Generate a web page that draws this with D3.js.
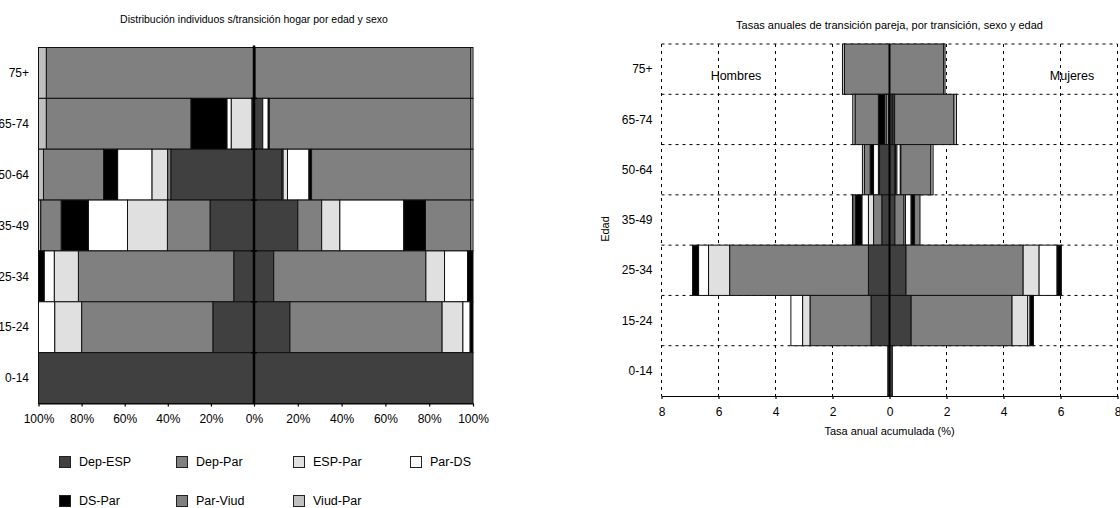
<!DOCTYPE html>
<html><head><meta charset="utf-8">
<script src="https://cdn.jsdelivr.net/npm/d3@7"></script>
<style>
body{margin:0;background:#fff;}
svg{display:block;font-family:"Liberation Sans",Arial,Helvetica,sans-serif;}
</style></head><body>
<svg id="chart" width="1120" height="508"></svg>
<script>
// Age groups, top to bottom
const ages = ["75+", "65-74", "50-64", "35-49", "25-34", "15-24", "0-14"];
// Transition types, stacked from the centre outwards
const series = ["Dep-ESP", "Dep-Par", "ESP-Par", "Par-DS", "DS-Par", "Par-Viud", "Viud-Par"];

// Distribution of individuals by transition (% of each age group), one row per age group
const distHombres = [
  [0,    0,    0,    0,    0,    96.4, 3.6],
  [1.0,  0,    9.6,  2.0,  16.7, 67.1, 3.6],
  [38.6, 1.5,  7.3,  15.9, 6.5,  27.9, 2.3],
  [20.4, 19.8, 18.5, 18.2, 12.6, 9.5,  1.0],
  [9.4,  72.1, 11.2, 4.7,  2.6,  0,    0],
  [19.1, 60.9, 12.5, 7.5,  0,    0,    0],
  [100,  0,    0,    0,    0,    0,    0]
];
const distMujeres = [
  [0.5,  0,    0,    0,    0,    98.5, 1.0],
  [4.0,  0,    0,    2.5,  0.5,  92.0, 1.0],
  [12.8, 0.5,  2.0,  9.8,  1.2,  72.7, 1.0],
  [20.0, 10.9, 8.3,  29.2, 9.9,  20.7, 1.0],
  [9.0,  69.5, 8.5,  10.5, 2.5,  0,    0],
  [16.4, 69.5, 9.5,  3.3,  1.3,  0,    0],
  [100,  0,    0,    0,    0,    0,    0]
];

// Annual transition rates (%), one row per age group
const tasaHombres = [
  [0,    0,    0,    0,    0,    1.58, 0.07],
  [0.04, 0,    0.06, 0.06, 0.23, 0.82, 0.08],
  [0.35, 0.02, 0.02, 0.17, 0.12, 0.20, 0.07],
  [0.27, 0.29, 0.18, 0.23, 0.23, 0.09, 0.01],
  [0.74, 4.87, 0.74, 0.35, 0.21, 0,    0],
  [0.65, 2.14, 0.26, 0.41, 0,    0,    0],
  [0.06, 0,    0,    0,    0,    0,    0]
];
const tasaMujeres = [
  [0,    0,    0,    0,    0,    1.90, 0.05],
  [0.10, 0,    0.02, 0.04, 0.02, 2.08, 0.09],
  [0.19, 0.02, 0.05, 0.12, 0.02, 1.05, 0.08],
  [0.19, 0.32, 0.05, 0.20, 0.12, 0.19, 0],
  [0.58, 4.11, 0.56, 0.63, 0.15, 0,    0],
  [0.76, 3.54, 0.55, 0.08, 0.12, 0,    0],
  [0.10, 0,    0,    0,    0,    0,    0]
];

// Tick values
const pctTicks = [0, 20, 40, 60, 80, 100];
const rateTicks = [-8, -6, -4, -2, 0, 2, 4, 6, 8];

const shades = ["#404040", "#808080", "#e0e0e0", "#ffffff", "#000000", "#808080", "#c0c0c0"];
const fill = d3.scaleOrdinal().domain(series).range(shades);

const svg = d3.select("#chart");

// cumulative [start, end] pairs for each row
function stackRows(rows) {
  return rows.map(r => {
    const ends = d3.cumsum(r);
    return r.map((v, j) => ({ key: series[j], v, s0: ends[j] - v, s1: ends[j] }));
  });
}

function drawBars(g, rows, x, y) {
  const stacked = stackRows(rows);
  ages.forEach((age, i) => {
    g.selectAll(null)
      .data(stacked[i].filter(d => d.v > 0))
      .join("rect")
      .attr("x", d => Math.min(x(d.s0), x(d.s1)))
      .attr("width", d => Math.abs(x(d.s1) - x(d.s0)))
      .attr("y", y(age))
      .attr("height", y.bandwidth())
      .attr("fill", d => fill(d.key))
      .attr("stroke", "#111")
      .attr("stroke-width", 1);
  });
}

/* ---------- Left panel: distribution ---------- */
const yL = d3.scaleBand().domain(ages).range([47.5, 403.5]);
const xLH = d3.scaleLinear().domain([0, 100]).range([254, 38.5]);
const xLM = d3.scaleLinear().domain([0, 100]).range([254, 473]);

const left = svg.append("g");
drawBars(left.append("g"), distHombres, xLH, yL);
drawBars(left.append("g"), distMujeres, xLM, yL);

// centre axis with cross ticks at the group boundaries
left.append("line")
  .attr("x1", xLH(0)).attr("x2", xLH(0))
  .attr("y1", 45.5).attr("y2", 404)
  .attr("stroke", "#000").attr("stroke-width", 2.5);
left.selectAll(null)
  .data(ages.slice(1))
  .join("line")
  .attr("x1", xLH(0) - 3).attr("x2", xLH(0) + 3)
  .attr("y1", d => yL(d)).attr("y2", d => yL(d))
  .attr("stroke", "#000").attr("stroke-width", 1.5);

// category labels
left.selectAll(null)
  .data(ages)
  .join("text")
  .attr("x", 29)
  .attr("y", d => yL(d) + yL.bandwidth() / 2)
  .attr("dy", "0.35em")
  .attr("text-anchor", "end")
  .attr("font-size", 12)
  .text(d => d);

// bottom percentage axis
function styleAxis(g) {
  g.selectAll("path.domain").attr("stroke", "#000").attr("stroke-width", 1.2);
  g.selectAll(".tick line").attr("stroke", "#000").attr("stroke-width", 1.2);
  g.selectAll(".tick text").attr("font-size", 12).attr("fill", "#000")
    .attr("font-family", "Liberation Sans, Arial, sans-serif");
}
left.append("g")
  .attr("transform", "translate(0,403.5)")
  .call(d3.axisBottom(xLH).tickValues(pctTicks).tickFormat(d => d + "%")
    .tickSizeInner(3).tickSizeOuter(0).tickPadding(7.5))
  .call(styleAxis);
left.append("g")
  .attr("transform", "translate(0,403.5)")
  .call(d3.axisBottom(xLM).tickValues(pctTicks.slice(1)).tickFormat(d => d + "%")
    .tickSizeInner(3).tickSizeOuter(0).tickPadding(7.5))
  .call(styleAxis);

left.append("text")
  .attr("x", 254).attr("y", 19).attr("dy", "0.35em")
  .attr("text-anchor", "middle").attr("font-size", 10.5)
  .text("Distribución individuos s/transición hogar por edad y sexo");

// legend
const legend = svg.append("g");
series.forEach((s, i) => {
  const col = i < 4 ? i : i - 4;
  const row = i < 4 ? 0 : 1;
  const gx = 59 + col * 117;
  const gy = 456 + row * 39;
  legend.append("rect")
    .attr("x", gx + 0.5).attr("y", gy + 0.5)
    .attr("width", 11).attr("height", 11)
    .attr("fill", fill(s)).attr("stroke", "#222").attr("stroke-width", 1);
  legend.append("text")
    .attr("x", gx + 20).attr("y", gy + 6).attr("dy", "0.35em")
    .attr("font-size", 12.5).text(s);
});

/* ---------- Right panel: annual rates ---------- */
const xR = d3.scaleLinear().domain([-8, 8]).range([661.5, 1117.5]);
const yR = d3.scaleBand().domain(ages).range([44, 396]);
const xRH = v => xR(-v);
const xRM = v => xR(v);

const right = svg.append("g");

// dashed grid
right.append("g").selectAll("line")
  .data(rateTicks.filter(d => d !== 0))
  .join("line")
  .attr("x1", d => xR(d)).attr("x2", d => xR(d))
  .attr("y1", 44).attr("y2", 396)
  .attr("stroke", "#000").attr("stroke-width", 1)
  .attr("stroke-dasharray", "3,4");
right.append("g").selectAll("line")
  .data(ages)
  .join("line")
  .attr("x1", xR(-8)).attr("x2", xR(8))
  .attr("y1", d => yR(d)).attr("y2", d => yR(d))
  .attr("stroke", "#000").attr("stroke-width", 1)
  .attr("stroke-dasharray", "3,4");

drawBars(right.append("g"), tasaHombres, xRH, yR);
drawBars(right.append("g"), tasaMujeres, xRM, yR);

right.append("line")
  .attr("x1", xR(0)).attr("x2", xR(0))
  .attr("y1", 44).attr("y2", 396)
  .attr("stroke", "#000").attr("stroke-width", 2);

right.append("g")
  .attr("transform", "translate(0,396)")
  .call(d3.axisBottom(xR).tickValues(rateTicks).tickFormat(d => Math.abs(d))
    .tickSizeInner(3).tickSizeOuter(0).tickPadding(8.5))
  .call(styleAxis);

right.selectAll(null)
  .data(ages)
  .join("text")
  .attr("x", 652.5)
  .attr("y", d => yR(d) + yR.bandwidth() / 2)
  .attr("dy", "0.35em")
  .attr("text-anchor", "end")
  .attr("font-size", 12)
  .text(d => d);

right.append("text")
  .attr("x", 889.5).attr("y", 25).attr("dy", "0.35em")
  .attr("text-anchor", "middle").attr("font-size", 11)
  .text("Tasas anuales de transición pareja, por transición, sexo y edad");

right.append("text")
  .attr("x", 889.5).attr("y", 431).attr("dy", "0.35em")
  .attr("text-anchor", "middle").attr("font-size", 11)
  .text("Tasa anual acumulada (%)");

right.append("text")
  .attr("transform", "translate(605,229) rotate(-90)")
  .attr("dy", "0.35em")
  .attr("text-anchor", "middle").attr("font-size", 11)
  .text("Edad");

right.append("text")
  .attr("x", 736).attr("y", 76).attr("dy", "0.35em")
  .attr("text-anchor", "middle").attr("font-size", 12.5)
  .text("Hombres");
right.append("text")
  .attr("x", 1072).attr("y", 76).attr("dy", "0.35em")
  .attr("text-anchor", "middle").attr("font-size", 12.5)
  .text("Mujeres");
</script>
</body></html>
